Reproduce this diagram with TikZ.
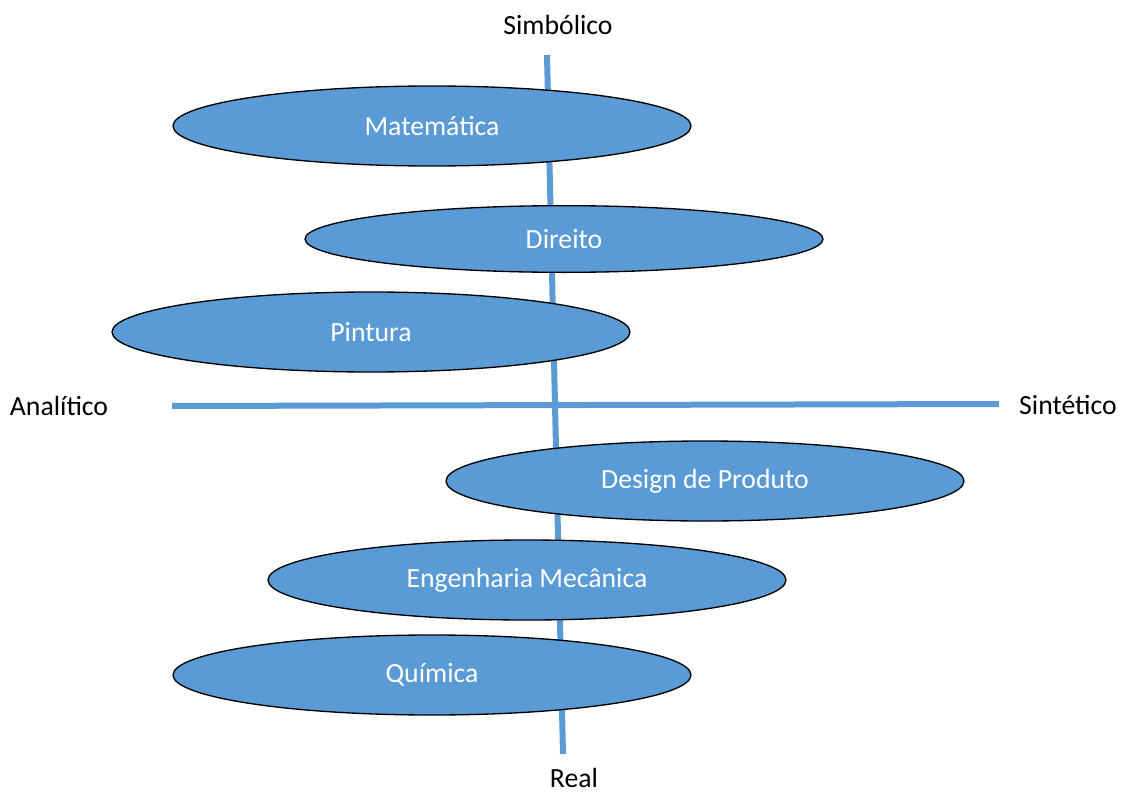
\documentclass[tikz,border=0pt]{standalone}
\usepackage{fontspec}
\setmainfont{Carlito}
\usetikzlibrary{shapes.geometric}
\definecolor{axisblue}{HTML}{5B9BD5}
\begin{document}
\begin{tikzpicture}[x=0.75pt,y=-0.75pt,
  axis/.style={draw=axisblue,line width=4.5pt},
  area/.style={ellipse,draw=black,line width=1pt,fill=axisblue,text=white,
    inner sep=0pt,minimum width=388.5pt,minimum height=60pt,font=\fontsize{20.8}{24}\selectfont},
  pole/.style={text=black,font=\fontsize{20.8}{24}\selectfont,inner sep=0pt}]
\useasboundingbox (0,0) rectangle (1123,795);
% axes
\coordinate (top) at (547,55);
\coordinate (bottom) at (563,754);
\coordinate (left) at (172,406);
\coordinate (right) at (999,404);
\draw[axis] (top) -- (bottom);
\draw[axis] (left) -- (right);
% pole labels
\node[pole] (simb) at (558,25) {Simbólico};
\node[pole] (real) at (574,778) {Real};
\node[pole] (anal) at (59,406) {Analítico};
\node[pole] (sint) at (1068,405) {Sintético};
% disciplines
\node[area] (mat) at (432,126) {Matemática};
\node[area,minimum height=50pt] (dir) at (564,239) {Direito};
\node[area] (pin) at (371,332) {Pintura};
\node[area] (des) at (705,481) {Design de Produto};
\node[area] (eng) at (527,580) {Engenharia Mecânica};
\node[area] (qui) at (432,675) {Química};
\end{tikzpicture}
\end{document}
